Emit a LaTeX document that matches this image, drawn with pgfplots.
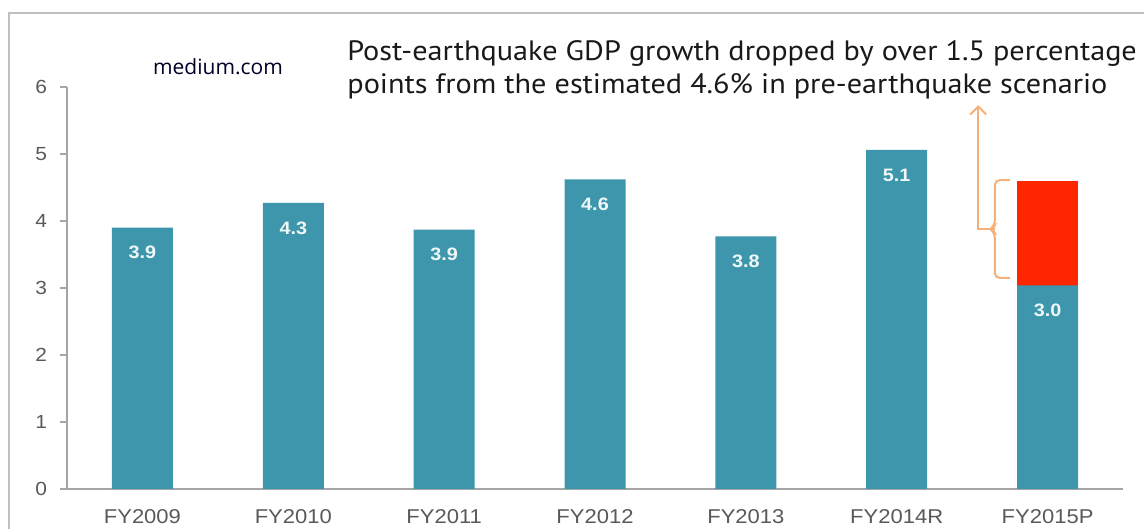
\documentclass[border=0pt]{standalone}
\usepackage{pgfplots}
\pgfplotsset{compat=1.18}
\usetikzlibrary{arrows.meta}
\usepackage{fontspec}
\setmainfont[FakeStretch=1.1]{Liberation Sans}
\newfontfamily\titlefont[FakeStretch=1.08]{PT Sans}
\newfontfamily\webfont{Open Sans}
\definecolor{teal1}{HTML}{3D96AB}
\definecolor{redbar}{HTML}{FF2600}
\definecolor{brace}{HTML}{F5B07A}
\definecolor{axgray}{HTML}{A6A6A6}
\definecolor{labgray}{HTML}{595959}
\definecolor{framegray}{HTML}{BFBFBF}
\begin{document}
\begin{tikzpicture}
\useasboundingbox (-33.5pt,-20pt) rectangle (538.5pt,244.5pt);
\draw[framegray, line width=0.8pt] (-29pt,-20pt) -- (-29pt,238pt) -- (538.5pt,238pt);
\begin{axis}[
  at={(0,0)}, anchor=south west,
  scale only axis,
  width=528pt, height=201pt,
  xmin=-0.5, xmax=6.5, ymin=0, ymax=6,
  axis lines*=left,
  axis line style={axgray, line width=0.6pt},
  ybar, bar width=30.5pt, bar shift=0pt,
  xtick={0,...,6},
  xticklabels={FY2009,FY2010,FY2011,FY2012,FY2013,FY2014R,FY2015P},
  x tick style={draw=none},
  extra x ticks={-0.5,0.5,1.5,2.5,3.5,4.5,5.5,6.5},
  extra x tick labels={},
  extra x tick style={tick style={draw=axgray, line width=0.6pt}, major tick length=3pt},
  ytick={0,...,6},
  y tick style={axgray, line width=0.6pt},
  major tick length=3.5pt,
  tick align=outside,
  xtick pos=bottom, ytick pos=left,
  /pgf/number format/assume math mode=true,
  tick label style={font=\fontsize{9.5}{11}\selectfont, text=labgray},
  x tick label style={font=\fontsize{10}{12}\selectfont, text=labgray, yshift=-3pt},
  y tick label style={xshift=-3pt},
  clip=false,
  every node near coord/.append style={anchor=center, yshift=-12.5pt, font=\bfseries\fontsize{9}{11}\selectfont, text=white!92!teal1},
]
\addplot[fill=redbar, draw=none] coordinates {(6,4.6)};
\addplot[fill=teal1, draw=none, nodes near coords, point meta=explicit symbolic] coordinates {
  (0,3.9) [3.9]
  (1,4.27) [4.3]
  (2,3.87) [3.9]
  (3,4.62) [4.6]
  (4,3.77) [3.8]
  (5,5.06) [5.1]
  (6,3.04) [3.0]
};
\draw[brace, line width=1pt, -{Straight Barb[length=4pt,width=8pt]}] (axis cs:5.65,3.88) -- (axis cs:5.54,3.88) -- (axis cs:5.54,5.73);
\draw[brace, line width=1pt, rounded corners=2.5pt] (axis cs:5.75,4.61) -- (axis cs:5.65,4.61) -- (axis cs:5.65,3.93) -- (axis cs:5.62,3.88) -- (axis cs:5.65,3.83) -- (axis cs:5.65,3.15) -- (axis cs:5.75,3.15);
\end{axis}
\node[font=\webfont\fontsize{10.5}{12}\selectfont, text=black!85!blue] at (75.5pt,211pt) {medium.com};
\node[anchor=west, align=left, font=\titlefont\fontsize{14}{16.5}\selectfont, text=black!90, inner sep=0pt] at (140pt,209.5pt) {Post-earthquake GDP growth dropped by over 1.5 percentage\\points from the estimated 4.6\% in pre-earthquake scenario};
\end{tikzpicture}
\end{document}
